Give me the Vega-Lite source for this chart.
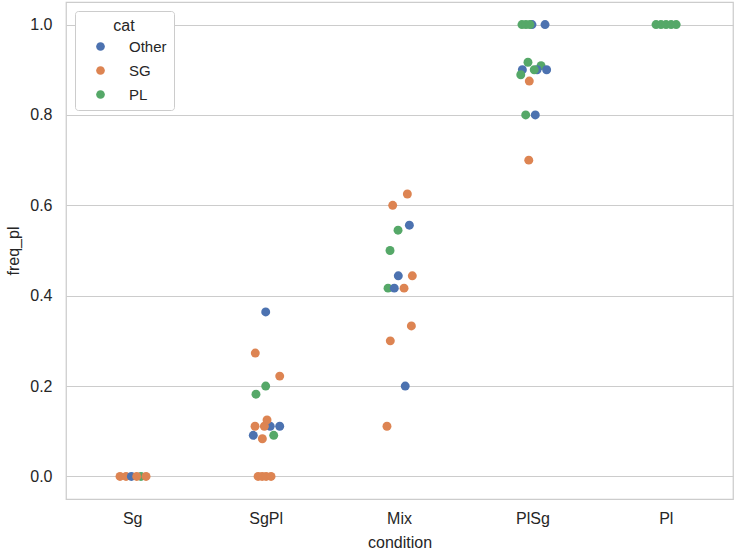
{
  "$schema": "https://vega.github.io/schema/vega-lite/v6.json",
  "width": 667,
  "height": 497,
  "autosize": {"type": "none"},
  "padding": {"left": 66, "top": 2, "right": 1, "bottom": 54},
  "background": "white",
  "config": {
    "font": "Liberation Sans",
    "view": {"stroke": "#cccccc", "strokeWidth": 1.25},
    "axis": {"labelColor": "#262626", "titleColor": "#262626", "labelFontSize": 16, "titleFontSize": 16, "titleFontWeight": "normal", "domain": false, "ticks": false}
  },
  "data": {
    "values": [
      {"condition": "Sg", "cat": "SG", "freq_pl": 0, "jit": -0.095},
      {"condition": "Sg", "cat": "SG", "freq_pl": 0, "jit": -0.05},
      {"condition": "Sg", "cat": "Other", "freq_pl": 0, "jit": -0.01},
      {"condition": "Sg", "cat": "PL", "freq_pl": 0, "jit": 0.062},
      {"condition": "Sg", "cat": "SG", "freq_pl": 0, "jit": 0.03},
      {"condition": "Sg", "cat": "SG", "freq_pl": 0, "jit": 0.1},

      {"condition": "SgPl", "cat": "Other", "freq_pl": 0.364, "jit": -0.003},
      {"condition": "SgPl", "cat": "SG", "freq_pl": 0.273, "jit": -0.081},
      {"condition": "SgPl", "cat": "SG", "freq_pl": 0.222, "jit": 0.102},
      {"condition": "SgPl", "cat": "PL", "freq_pl": 0.2, "jit": -0.003},
      {"condition": "SgPl", "cat": "PL", "freq_pl": 0.182, "jit": -0.076},
      {"condition": "SgPl", "cat": "Other", "freq_pl": 0.111, "jit": 0.031},
      {"condition": "SgPl", "cat": "Other", "freq_pl": 0.111, "jit": 0.102},
      {"condition": "SgPl", "cat": "SG", "freq_pl": 0.111, "jit": -0.083},
      {"condition": "SgPl", "cat": "SG", "freq_pl": 0.111, "jit": -0.013},
      {"condition": "SgPl", "cat": "SG", "freq_pl": 0.125, "jit": 0.007},
      {"condition": "SgPl", "cat": "Other", "freq_pl": 0.0909, "jit": -0.096},
      {"condition": "SgPl", "cat": "PL", "freq_pl": 0.0909, "jit": 0.057},
      {"condition": "SgPl", "cat": "SG", "freq_pl": 0.0833, "jit": -0.028},
      {"condition": "SgPl", "cat": "SG", "freq_pl": 0, "jit": -0.06},
      {"condition": "SgPl", "cat": "SG", "freq_pl": 0, "jit": -0.03},
      {"condition": "SgPl", "cat": "SG", "freq_pl": 0, "jit": 0.0},
      {"condition": "SgPl", "cat": "SG", "freq_pl": 0, "jit": 0.037},

      {"condition": "Mix", "cat": "SG", "freq_pl": 0.625, "jit": 0.059},
      {"condition": "Mix", "cat": "SG", "freq_pl": 0.6, "jit": -0.051},
      {"condition": "Mix", "cat": "Other", "freq_pl": 0.556, "jit": 0.074},
      {"condition": "Mix", "cat": "PL", "freq_pl": 0.545, "jit": -0.011},
      {"condition": "Mix", "cat": "PL", "freq_pl": 0.5, "jit": -0.071},
      {"condition": "Mix", "cat": "Other", "freq_pl": 0.444, "jit": -0.009},
      {"condition": "Mix", "cat": "SG", "freq_pl": 0.444, "jit": 0.096},
      {"condition": "Mix", "cat": "PL", "freq_pl": 0.4167, "jit": -0.086},
      {"condition": "Mix", "cat": "Other", "freq_pl": 0.4167, "jit": -0.039},
      {"condition": "Mix", "cat": "SG", "freq_pl": 0.4167, "jit": 0.034},
      {"condition": "Mix", "cat": "SG", "freq_pl": 0.333, "jit": 0.089},
      {"condition": "Mix", "cat": "SG", "freq_pl": 0.3, "jit": -0.069},
      {"condition": "Mix", "cat": "Other", "freq_pl": 0.2, "jit": 0.043},
      {"condition": "Mix", "cat": "SG", "freq_pl": 0.111, "jit": -0.094},

      {"condition": "PlSg", "cat": "Other", "freq_pl": 1.0, "jit": -0.007},
      {"condition": "PlSg", "cat": "Other", "freq_pl": 1.0, "jit": 0.091},
      {"condition": "PlSg", "cat": "PL", "freq_pl": 1.0, "jit": -0.082},
      {"condition": "PlSg", "cat": "PL", "freq_pl": 1.0, "jit": -0.052},
      {"condition": "PlSg", "cat": "PL", "freq_pl": 1.0, "jit": -0.022},
      {"condition": "PlSg", "cat": "PL", "freq_pl": 0.9167, "jit": -0.037},
      {"condition": "PlSg", "cat": "PL", "freq_pl": 0.909, "jit": 0.061},
      {"condition": "PlSg", "cat": "Other", "freq_pl": 0.9, "jit": -0.079},
      {"condition": "PlSg", "cat": "Other", "freq_pl": 0.9, "jit": 0.031},
      {"condition": "PlSg", "cat": "Other", "freq_pl": 0.9, "jit": 0.103},
      {"condition": "PlSg", "cat": "PL", "freq_pl": 0.9, "jit": 0.01},
      {"condition": "PlSg", "cat": "PL", "freq_pl": 0.889, "jit": -0.091},
      {"condition": "PlSg", "cat": "SG", "freq_pl": 0.875, "jit": -0.027},
      {"condition": "PlSg", "cat": "PL", "freq_pl": 0.8, "jit": -0.054},
      {"condition": "PlSg", "cat": "Other", "freq_pl": 0.8, "jit": 0.018},
      {"condition": "PlSg", "cat": "SG", "freq_pl": 0.7, "jit": -0.031},

      {"condition": "Pl", "cat": "PL", "freq_pl": 1.0, "jit": -0.077},
      {"condition": "Pl", "cat": "PL", "freq_pl": 1.0, "jit": -0.04},
      {"condition": "Pl", "cat": "PL", "freq_pl": 1.0, "jit": -0.002},
      {"condition": "Pl", "cat": "PL", "freq_pl": 1.0, "jit": 0.036},
      {"condition": "Pl", "cat": "PL", "freq_pl": 1.0, "jit": 0.074}
    ]
  },
  "mark": {"type": "point", "filled": true, "opacity": 1, "size": 80, "shape": "circle"},
  "encoding": {
    "x": {
      "field": "condition", "type": "nominal",
      "sort": ["Sg", "SgPl", "Mix", "PlSg", "Pl"],
      "scale": {"paddingInner": 0, "paddingOuter": 0},
      "axis": {"labelAngle": 0, "labelPadding": 11, "titlePadding": 8, "grid": false, "title": "condition"}
    },
    "xOffset": {"field": "jit", "type": "quantitative", "scale": {"domain": [-0.5, 0.5]}},
    "y": {
      "field": "freq_pl", "type": "quantitative",
      "scale": {"domain": [-0.05, 1.05], "nice": false, "zero": false},
      "axis": {"values": [0, 0.2, 0.4, 0.6, 0.8, 1.0], "format": ".1f", "labelPadding": 14, "titlePadding": 8, "grid": true, "gridColor": "#cccccc", "gridWidth": 1.2, "title": "freq_pl"}
    },
    "color": {
      "field": "cat", "type": "nominal",
      "scale": {"domain": ["Other", "SG", "PL"], "range": ["#4C72B0", "#DD8452", "#55A868"]},
      "legend": {
        "orient": "top-left", "offset": 9, "title": "cat",
        "titleFontSize": 16, "titleFontWeight": "normal", "titleColor": "#262626", "titleAnchor": "middle",
        "labelFontSize": 15, "labelColor": "#262626", "labelOffset": 21,
        "symbolType": "circle", "symbolSize": 75, "symbolOffset": 11, "symbolStrokeWidth": 0,
        "rowPadding": 8, "padding": 7, "titlePadding": 5,
        "strokeColor": "#cccccc", "fillColor": "white", "cornerRadius": 3
      }
    }
  }
}
